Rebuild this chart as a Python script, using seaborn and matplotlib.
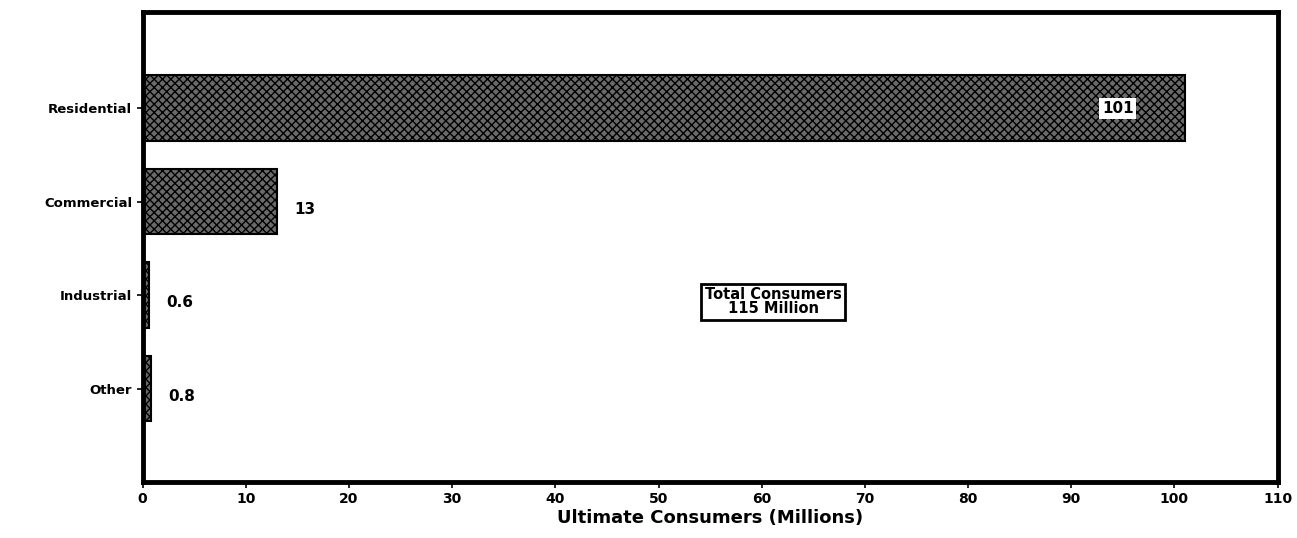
import pandas as pd
import seaborn as sns
import matplotlib.pyplot as plt

# Data
sectors = ["Residential", "Commercial", "Industrial", "Other"]
consumers = [101, 13, 0.6, 0.8]
value_labels = ["101", "13", "0.6", "0.8"]
x_ticks = list(range(0, 111, 10))

df = pd.DataFrame({"sector": sectors, "consumers": consumers})

sns.set_style("white")
plt.rcParams['font.family'] = ['DejaVu Sans']
plt.rcParams['text.color'] = 'black'
plt.rcParams['axes.labelcolor'] = 'black'
plt.rcParams['xtick.color'] = 'black'
plt.rcParams['ytick.color'] = 'black'

fig = plt.figure(figsize=(12.97, 5.38), dpi=100)
ax = fig.add_axes([0.110, 0.104, 0.875, 0.874])

sns.barplot(data=df, x="consumers", y="sector", orient="h", ax=ax,
            color="#6a6a6a", edgecolor="black", linewidth=1.5, width=0.7,
            saturation=1)
for patch in ax.patches:
    patch.set_hatch("xxxx")

# value labels
for i, (val, lab) in enumerate(zip(consumers, value_labels)):
    if i == 0:
        ax.text(val - 6.5, i, lab, ha="center", va="center", fontsize=11,
                fontweight="bold", color="black",
                bbox=dict(boxstyle="square,pad=0.2", fc="white", ec="none"))
    else:
        ax.text(val + 1.7, i + 0.08, lab, ha="left", va="center",
                fontsize=11, fontweight="bold", color="black")

# total box
ax.text(61.1, 2.07, "Total Consumers\n115 Million", ha="center", va="center",
        fontsize=10.5, fontweight="bold", linespacing=0.9, color="black",
        bbox=dict(boxstyle="square,pad=0.25", fc="white", ec="black", lw=2))

ax.set_xlim(0, 110)
ax.set_ylim(4.0, -1.03)
ax.set_xticks(x_ticks)
ax.set_xticklabels([str(t) for t in x_ticks], fontsize=10, fontweight="bold")
ax.set_yticks(range(len(sectors)))
ax.set_yticklabels(sectors, fontsize=9.5, fontweight="bold")
ax.tick_params(axis="both", direction="out", length=4, width=1.2,
               bottom=True, left=True, colors="black")
ax.set_xlabel("Ultimate Consumers (Millions)", fontsize=13, fontweight="bold",
              labelpad=2, color="black")
ax.set_ylabel("")

for side in ["top", "bottom", "left", "right"]:
    ax.spines[side].set_visible(True)
    ax.spines[side].set_linewidth(3.5)
    ax.spines[side].set_color("black")

fig.savefig("out.png", dpi=100)
plt.close(fig)
